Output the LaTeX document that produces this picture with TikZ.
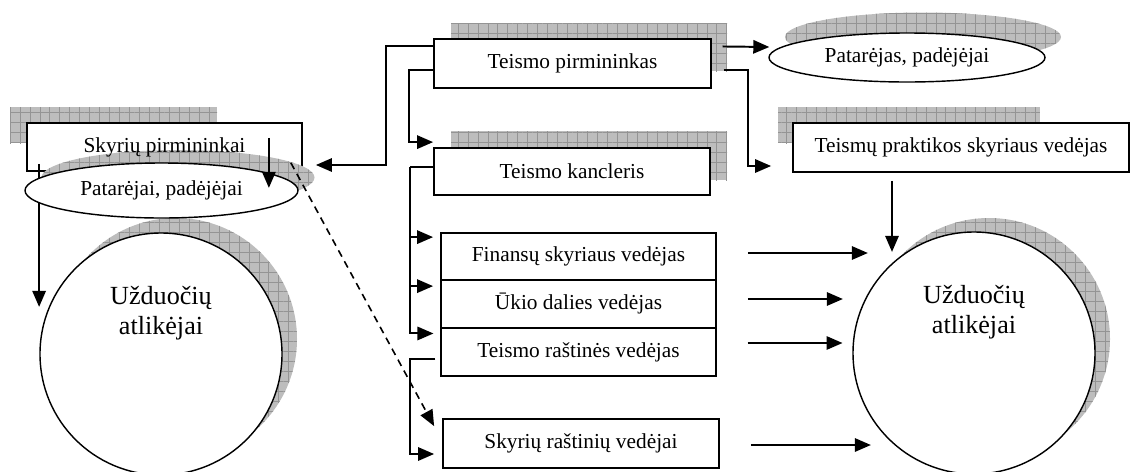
\documentclass[tikz,border=0pt]{standalone}
\usepackage{fontspec}
\setmainfont{Liberation Serif}
\usetikzlibrary{positioning,calc,arrows.meta,patterns.meta,shapes.geometric}
\newcommand{\pxu}{0.5625pt}
\tikzstyle{box} = [draw, line width=1pt, fill=white, inner sep=0pt, font=\fontsize{12}{14}\selectfont]
\tikzstyle{thinbox} = [box, line width=0.6pt]
\tikzstyle{oval} = [ellipse, draw, line width=0.8pt, fill=white, inner sep=0pt, font=\fontsize{12}{14}\selectfont]
\tikzstyle{bigcirc} = [circle, draw, line width=0.8pt, fill=white, inner sep=0pt, minimum size=242*\pxu]
\tikzstyle{circtext} = [align=center, font=\fontsize{14.7}{17}\selectfont, yshift=23pt]
\tikzstyle{hatch} = [fill=gray!52,
    postaction={pattern={Lines[angle=0,distance=5.6pt,line width=0.35pt]}, pattern color=black!42},
    postaction={pattern={Lines[angle=90,distance=5.6pt,line width=0.35pt]}, pattern color=black!42}]
\tikzstyle{conn} = [line width=1.1pt]
\tikzstyle{arr} = [conn, -{Triangle[length=9pt,width=7.5pt]}]

\begin{document}
\begin{tikzpicture}[x=\pxu, y=-\pxu]
    \useasboundingbox (0,0) rectangle (1130,471);
    % Shadows
    \fill[hatch] (451,23) rectangle (727,71);
    \fill[hatch] (451,131) rectangle (727,180);
    \fill[hatch] (923,37) ellipse [x radius=138, y radius=24.5];
    \fill[hatch] (778,107) rectangle (1040,143);
    \fill[hatch] (10,107) rectangle (217,143);
    \fill[hatch] (989,339) circle [radius=121];
    \fill[hatch] (176,339) circle [radius=121];
    % Court side
    \node[thinbox, minimum width=277*\pxu, minimum height=49*\pxu] (pirm) at (572.5,63.5) {Teismo pirmininkas};
    \node[box, minimum width=276*\pxu, minimum height=47*\pxu] (kanc) at (572,171.5) {Teismo kancleris};
    \node[oval, minimum width=276*\pxu, minimum height=49*\pxu] (pat) at (907,57.5) {Patarėjas, padėjėjai};
    \node[box, minimum width=336*\pxu, minimum height=49*\pxu] (prakt) at (961,147.5) {Teismų praktikos skyriaus vedėjas};
    \node[box, minimum width=275*\pxu, minimum height=47*\pxu] (fin) at (578.5,256.5) {Finansų skyriaus vedėjas};
    \node[box, minimum width=275*\pxu, minimum height=48*\pxu, below=-1pt of fin] (ukio) {Ūkio dalies vedėjas};
    \node[thinbox, minimum width=275*\pxu, minimum height=48*\pxu, below=-0.8pt of ukio] (rast) {Teismo raštinės vedėjas};
    \node[box, minimum width=276*\pxu, minimum height=49*\pxu] (skr) at (581,443.5) {Skyrių raštinių vedėjai};
    \node[bigcirc, label={[circtext]center:Užduočių\\atlikėjai}] (circR) at (974,353) {};
    \node[bigcirc, label={[circtext]center:Užduočių\\atlikėjai}] (circL) at (161,354) {};
    % Divisions side
    \node[box, minimum width=275*\pxu, minimum height=48*\pxu] (skp) at (164.5,147) {};
    \draw[arr] ($(skp.south west)+(13,-8)$) -- ++(0,143);
    \fill[hatch] (178,177.5) ellipse [x radius=136.5, y radius=27.5];
    \node[oval, minimum width=273*\pxu, minimum height=55*\pxu] (patL) at (161.5,190.5) {Patarėjai, padėjėjai};
    \node[font=\fontsize{12}{14}\selectfont] (skptext) at (skp) {Skyrių pirmininkai};
    \draw[arr] ($(skp.south east)+(-34,-34)$) -- ++(0,50);
    \coordinate (skpin) at ($(skp.east)+(13,18)$);
    % Connectors
    \draw[arr] ($(pirm.north west)+(0,8)$) -- ++(-47,0) |- (skpin);
    \draw[arr] ($(pirm.north west)+(0,32)$) -- ++(-24,0) |- ($(kanc.north west)+(0,-5)$);
    \draw[arr] ($(pirm.north east)+(11,8)$) -- ($(pat.west)+(1,-10.5)$);
    \draw[arr] ($(pirm.north east)+(12,32)$) -- ++(24,0) |- ($(prakt.west)+(-21,18.5)$);
    \draw[arr] ($(prakt.south)+(-69,8)$) -- ++(0,71);
    \draw[conn] ($(kanc.west)+(0,-4.5)$) -- ++(-23,0) coordinate (kt);
    \foreach \b/\dy in {fin/5,ukio/7,rast/6}
        \draw[arr] (kt) |- ($(\b.north west)+(-7,\dy)$);
    \draw[arr] ($(rast.west)+(-5,7)$) -- ++(-25,0) |- ($(skr.west)+(-8,10.5)$);
    \draw[arr, dash pattern=on 4pt off 3pt, line width=0.9pt] ($(skp.south east)+(-12,-9)$) -- ($(skr.north west)+(-8,8)$);
    \foreach \b/\dy/\len in {fin/-3.5/120,ukio/-5/95,rast/-9/95,skr/1.5/120}
        \draw[arr] ($(\b.east)+(31,\dy)$) -- ++(\len,0);
\end{tikzpicture}
\end{document}
